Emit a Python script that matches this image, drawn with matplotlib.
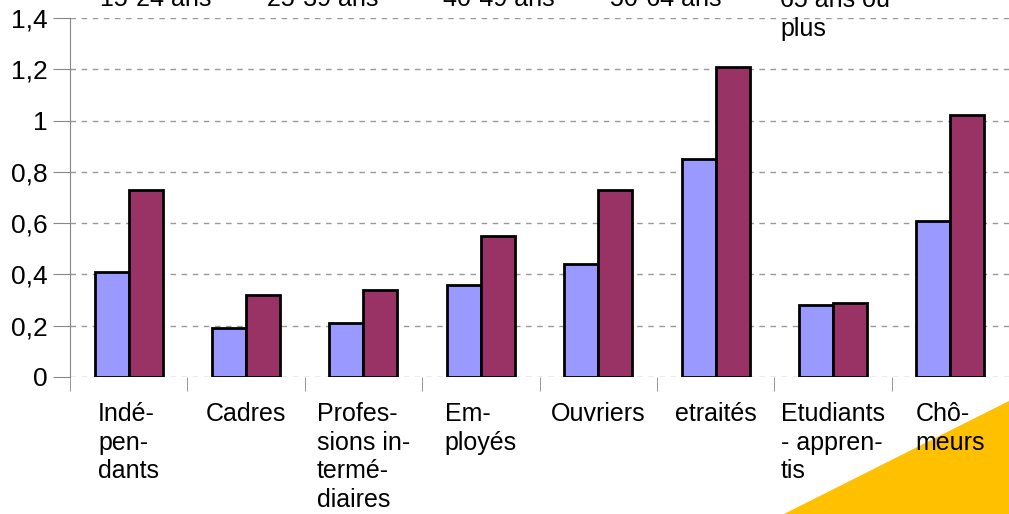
import matplotlib.pyplot as plt
from matplotlib.patches import Polygon
import numpy as np

plt.rcParams['font.family'] = ['Liberation Sans', 'DejaVu Sans']

categories = ["Indé-\npen-\ndants", "Cadres", "Profes-\nsions in-\ntermé-\ndiaires",
              "Em-\nployés", "Ouvriers", "etraités", "Etudiants\n- appren-\ntis",
              "Chô-\nmeurs"]
serie_a = [0.41, 0.19, 0.21, 0.36, 0.44, 0.85, 0.28, 0.61]
serie_b = [0.73, 0.32, 0.34, 0.55, 0.73, 1.21, 0.29, 1.02]
top_labels = ["15-24 ans", "25-39 ans", "40-49 ans", "50-64 ans", "65 ans ou\nplus"]
top_label_x = [100, 267, 443, 610, 780]
yticks = [0, 0.2, 0.4, 0.6, 0.8, 1.0, 1.2, 1.4]
ytick_labels = ["0", "0,2", "0,4", "0,6", "0,8", "1", "1,2", "1,4"]

W, H = 1009, 514
fig = plt.figure(figsize=(W / 100, H / 100), dpi=100)
ax = fig.add_axes([70 / W, 1 - 377 / H, 1 - 70 / W, (377 - 18) / H])
ax.patch.set_alpha(0)

x = np.arange(len(categories))
bw = 0.29
ax.bar(x - bw / 2, serie_a, bw, color="#9999ff", edgecolor="black", linewidth=2, zorder=3)
ax.bar(x + bw / 2, serie_b, bw, color="#993366", edgecolor="black", linewidth=2, zorder=3)

ax.set_xlim(-0.5, len(categories) - 0.5)
ax.set_ylim(0, 1.4)
ax.set_yticks(yticks)
ax.set_yticklabels(ytick_labels, fontsize=19)
ax.yaxis.grid(True, linestyle=(0, (4, 4)), color="#999999", linewidth=1)
ax.set_axisbelow(True)

ax.set_xticks(x)
ax.set_xticklabels(categories, fontsize=18, multialignment="left", va="top", linespacing=1.25)
ax.tick_params(axis="x", which="major", length=0, pad=18)
ax.set_xticks(np.arange(len(categories) + 1) - 0.5, minor=True)
ax.tick_params(axis="x", which="minor", length=10, color="#888888", direction="out")
ax.tick_params(axis="y", length=12, color="#888888", pad=4)

for s in ["top", "right", "bottom"]:
    ax.spines[s].set_visible(False)
ax.spines["left"].set_color("#888888")

# legend texts, cut by the top edge as in the original
for lbl, px in zip(top_labels, top_label_x):
    nlines = lbl.count("\n") + 1
    base = 6 + 30 * (nlines - 1)
    fig.text(px / W, 1 - base / H, lbl, fontsize=18, ha="left", va="baseline",
             linespacing=1.25)

tri = Polygon([(784 / W, 0), (1, 1 - 401 / H), (1, 0)], closed=True,
              transform=fig.transFigure, facecolor="#ffc000", edgecolor="none", zorder=-1)
fig.patches.append(tri)

fig.savefig("out.png", dpi=100)
